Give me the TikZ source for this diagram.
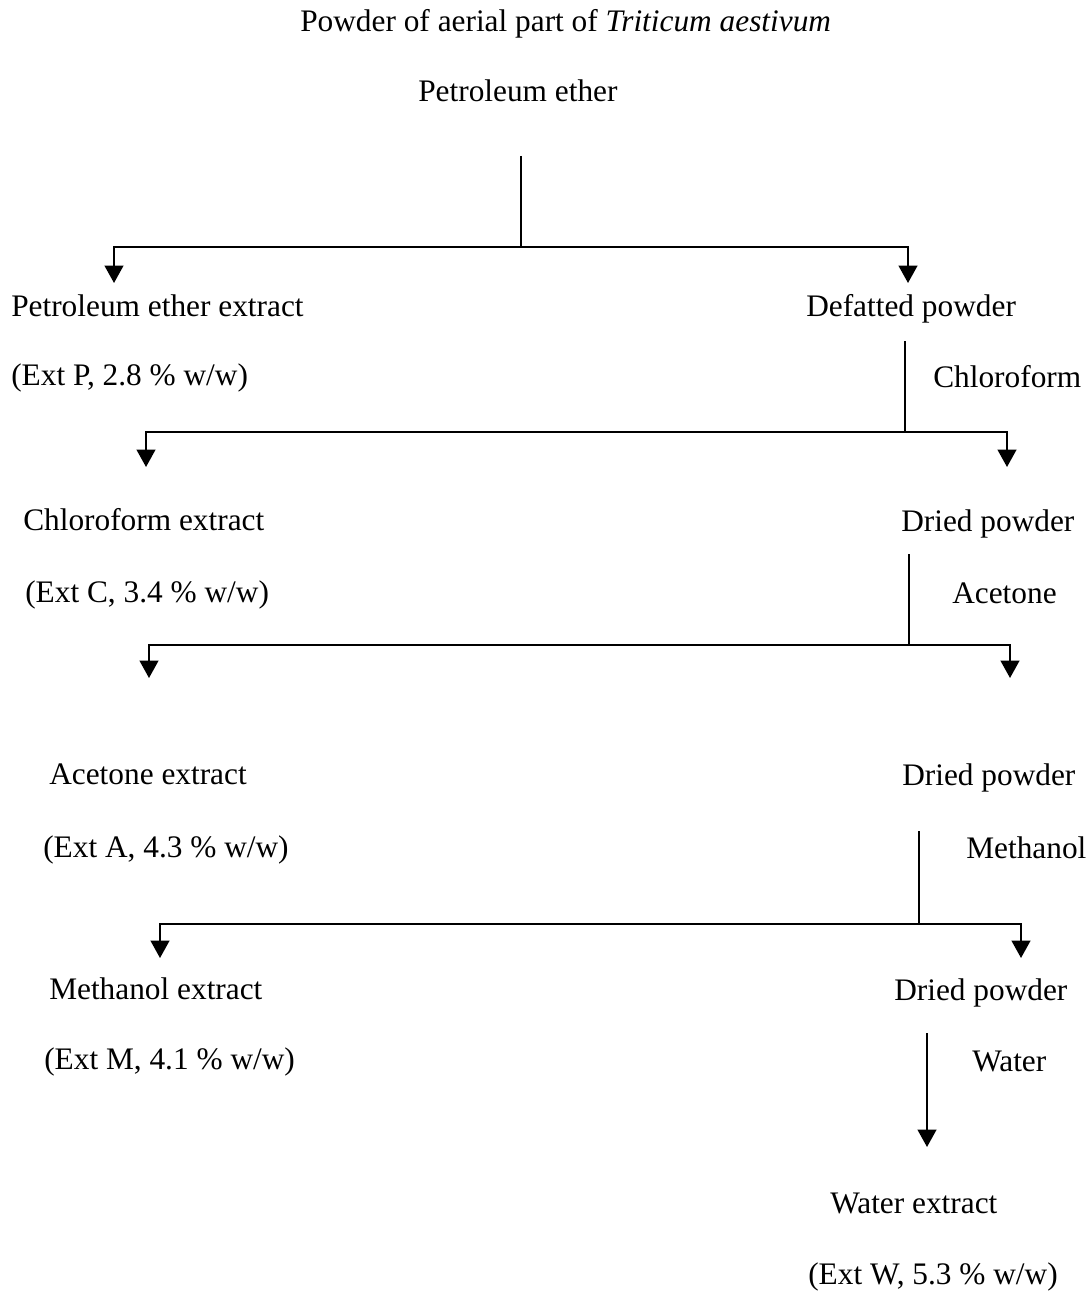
\documentclass[tikz,border=0pt]{standalone}
\usepackage{fontspec}
\setmainfont{Liberation Serif}
\usetikzlibrary{arrows.meta}
\begin{document}
\begin{tikzpicture}[x=0.75pt,y=-0.75pt,
  txt/.style={anchor=base west,inner sep=0pt,font=\fontsize{23.5}{28}\selectfont},
  ln/.style={line width=1.5pt},
  arr/.style={line width=1.5pt,-{Triangle[length=13pt,width=14pt]}}]
\useasboundingbox (0,0) rectangle (1090,1294);

% texts
\node[txt] (top) at (300,32) {Powder of aerial part of \textit{Triticum aestivum}};
\node[txt] (pet) at (418,102) {Petroleum ether};
\node[txt] (petext) at (11,316) {Petroleum ether extract};
\node[txt] (extp) at (11,385) {(Ext P, 2.8 \% w/w)};
\node[txt] (def) at (806,316) {Defatted powder};
\node[txt] (chl) at (933,387) {Chloroform};
\node[txt] (chlext) at (23,530) {Chloroform extract};
\node[txt] (extc) at (25,602) {(Ext C, 3.4 \% w/w)};
\node[txt] (dp1) at (901,531) {Dried powder};
\node[txt] (ace) at (952,603) {Acetone};
\node[txt] (aceext) at (49,784) {Acetone extract};
\node[txt] (exta) at (43,857) {(Ext A, 4.3 \% w/w)};
\node[txt] (dp2) at (902,785) {Dried powder};
\node[txt] (meth) at (966,858) {Methanol};
\node[txt] (methext) at (49,999) {Methanol extract};
\node[txt] (extm) at (44,1069) {(Ext M, 4.1 \% w/w)};
\node[txt] (dp3) at (894,1000) {Dried powder};
\node[txt] (wat) at (972,1071) {Water};
\node[txt] (watext) at (830,1213) {Water extract};
\node[txt] (extw) at (808,1284) {(Ext W, 5.3 \% w/w)};

% stage 1
\coordinate (s1t) at (521,156);
\coordinate (s1j) at (521,247);
\coordinate (s1l) at (114,283);
\coordinate (s1r) at (908,283);
\draw[ln] (s1t) -- (s1j);
\draw[arr] (s1j) -| (s1l);
\draw[arr] (s1j) -| (s1r);

% stage 2
\coordinate (s2t) at (905,341);
\coordinate (s2j) at (905,432);
\coordinate (s2l) at (146,467);
\coordinate (s2r) at (1007,467);
\draw[ln] (s2t) -- (s2j);
\draw[arr] (s2j) -| (s2l);
\draw[arr] (s2j) -| (s2r);

% stage 3
\coordinate (s3t) at (909,554);
\coordinate (s3j) at (909,645);
\coordinate (s3l) at (149,678);
\coordinate (s3r) at (1010,678);
\draw[ln] (s3t) -- (s3j);
\draw[arr] (s3j) -| (s3l);
\draw[arr] (s3j) -| (s3r);

% stage 4
\coordinate (s4t) at (919,831);
\coordinate (s4j) at (919,924);
\coordinate (s4l) at (160,958);
\coordinate (s4r) at (1021,958);
\draw[ln] (s4t) -- (s4j);
\draw[arr] (s4j) -| (s4l);
\draw[arr] (s4j) -| (s4r);

% stage 5
\coordinate (s5t) at (927,1033);
\coordinate (s5b) at (927,1147);
\draw[arr] (s5t) -- (s5b);
\end{tikzpicture}
\end{document}
